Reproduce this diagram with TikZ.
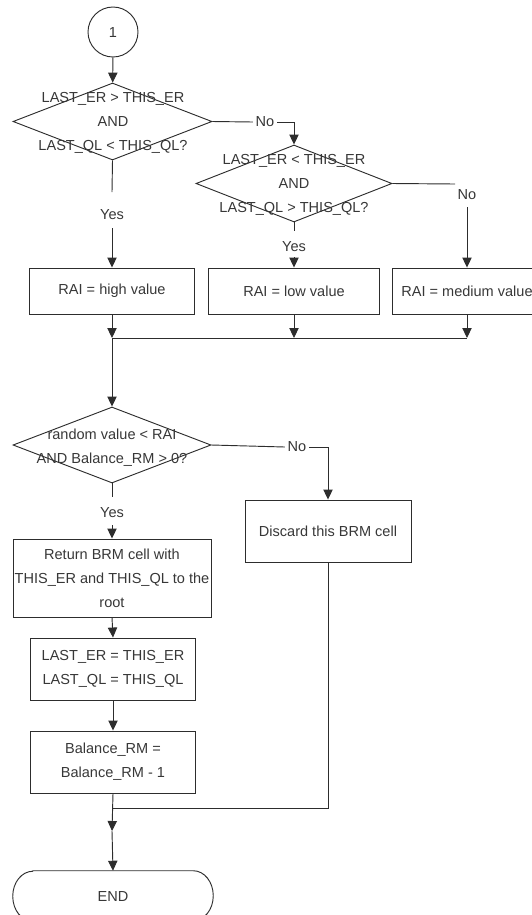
\documentclass[tikz,border=0pt]{standalone}
\usepackage{fontspec}
\setmainfont{Liberation Sans}
\usetikzlibrary{arrows.meta,shapes.geometric,calc}
\definecolor{ink}{RGB}{45,45,45}
\definecolor{txt}{RGB}{55,55,55}
\begin{document}
\begin{tikzpicture}[x=0.75pt,y=-0.75pt,
  every node/.style={font=\fontsize{10.9pt}{18pt}\selectfont, text=txt},
  line/.style={draw=ink, line width=0.7pt},
  arr/.style={line, -{Triangle[width=7pt,length=7.5pt]}},
  proc/.style={line, rectangle, inner sep=0pt, align=center},
  decision/.style={line, diamond, inner sep=0pt},
  dtext/.style={inner sep=0pt, align=center},
  lbl/.style={inner sep=0pt},
  hlbl/.style={inner xsep=2pt, inner ysep=0pt, fill=white},
]
\useasboundingbox (0,0) rectangle (532,915);

% start connector
\node[line, circle, minimum size=37.5pt, inner sep=0pt] (c1) at (113,32) {1};

% first test
\node[decision, minimum width=149.25pt, minimum height=57.75pt] (d1) at (112.5,121.5) {};
\node[dtext] (d1t) at (113,123) {LAST\_ER > THIS\_ER\\AND\\LAST\_QL < THIS\_QL?};

% second test
\node[decision, minimum width=147pt, minimum height=57.75pt] (d2) at (294,183.5) {};
\node[dtext] (d2t) at (294,185) {LAST\_ER < THIS\_ER\\AND\\LAST\_QL > THIS\_QL?};

% assignments of RAI
\node[proc, minimum width=123.75pt, minimum height=34.5pt] (b1) at (112,291) {RAI = high value};
\node[proc, minimum width=128.25pt, minimum height=34.5pt] (b2) at (294,291) {RAI = low value};
\node[proc, minimum width=112.5pt, minimum height=34.5pt] (b3) at (467,291) {RAI = medium value};

% third test
\node[decision, minimum width=148.5pt, minimum height=57pt] (d3) at (112,445) {};
\node[dtext] (d3t) at (112,448) {random value < RAI\\AND Balance\_RM > 0?};

% actions
\node[proc, minimum width=148.5pt, minimum height=58.5pt] (ret) at (112,578) {Return BRM cell with\\THIS\_ER and THIS\_QL to the\\root};
\node[proc, minimum width=124.5pt, minimum height=46.5pt] (dis) at (328,531) {Discard this BRM cell};
\node[proc, minimum width=123.75pt, minimum height=46.5pt] (last) at (113,669) {LAST\_ER = THIS\_ER\\LAST\_QL = THIS\_QL};
\node[proc, minimum width=123.75pt, minimum height=46.5pt] (bal) at (113,762) {Balance\_RM =\\Balance\_RM - 1};

% terminator
\node[inner sep=0pt, minimum width=150pt, minimum height=37.5pt] (end) at (113,896) {END};
\draw[line] ($(end.north west)+(20,0)$) -- ($(end.north east)+(-20,0)$)
  arc[start angle=90, end angle=-90, x radius=15pt, y radius=18.75pt]
  -- ($(end.south west)+(20,0)$)
  arc[start angle=270, end angle=90, x radius=15pt, y radius=18.75pt] -- cycle;

% branch labels
\node[lbl] (yes1) at (112,215) {Yes};
\node[lbl] (yes2) at (294,247) {Yes};
\node[lbl] (yes3) at (112,513) {Yes};
\node[hlbl] (no1) at (265,122) {No};
\node[lbl] (no2) at (467,195) {No};
\node[hlbl] (no3) at (297,447) {No};

% junction points
\coordinate (ya1) at (112,192);
\coordinate (yb1) at (112,228);
\coordinate (ya2) at (294,231);
\coordinate (yb2) at (294,257);
\coordinate (ya3) at (112,497);
\coordinate (yb3) at (112,525);
\coordinate (na2) at (455,184);
\coordinate (nb2) at (467,207);
\coordinate (j1) at (112,338);
\coordinate (j2) at (294,338);
\coordinate (j3) at (467,338);
\coordinate (j4) at (112,808);
\coordinate (j5) at (112,831);

% connectors
\draw[arr] (c1) -- (d1);
\draw[line] (d1.south) -- (ya1);
\draw[arr] (yb1) -- (b1.north);
\draw[line] (d1.east) -- (no1.west);
\draw[arr] (no1.east) -| (d2.north);
\draw[line] (d2.south) -- (ya2);
\draw[arr] (yb2) -- (b2.north);
\draw[line] (d2.east) -- (na2);
\draw[arr] (nb2) -- (b3.north);

\draw[arr] (b1.south) -- (j1);
\draw[arr] (b2.south) -- (j2);
\draw[arr] (b3.south) -- (j3);
\draw[line] (j1) -- (j3);
\draw[arr] (j1) -- (d3.north);

\draw[line] (d3.south) -- (ya3);
\draw[arr] (yb3) -- (ret.north);
\draw[line] (d3.east) -- (no3.west);
\draw[arr] (no3.east) -| (dis.north);

\draw[arr] (ret.south) -- (last.north);
\draw[arr] (last.south) -- (bal.north);
\draw[line] (dis.south) |- (j4);
\draw[arr] (bal.south) -- (j5);
\draw[arr] (j5) -- (end.north);
\end{tikzpicture}
\end{document}
